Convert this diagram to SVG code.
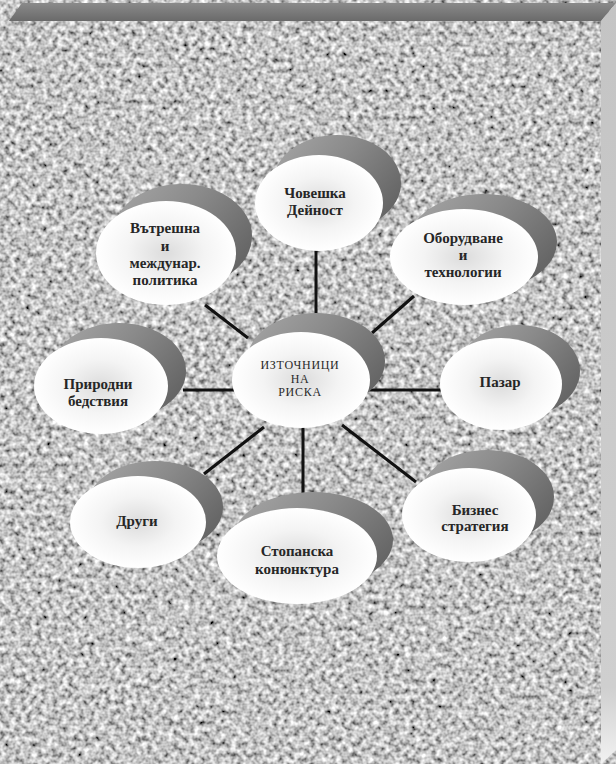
<svg xmlns="http://www.w3.org/2000/svg" width="616" height="764" viewBox="0 0 616 764">
<style>
.t{font-family:"Liberation Serif","Times New Roman",serif;font-weight:bold;font-size:15px;fill:#262626;text-anchor:middle}
.c{font-family:"Liberation Serif","Times New Roman",serif;font-size:12px;letter-spacing:0.7px;fill:#2a2a2a;text-anchor:middle}
.sh{fill:url(#shg)}
.face{fill:url(#faceg)}
.ln{stroke:#111;stroke-width:3;stroke-linecap:butt;fill:none}
</style>
<defs>
<filter id="granite" filterUnits="userSpaceOnUse" x="0" y="0" width="616" height="764">
<feTurbulence type="fractalNoise" baseFrequency="0.19" numOctaves="2" seed="7" result="n"/>
<feColorMatrix in="n" type="matrix" values="1.5 0 0 0 -0.2  1.5 0 0 0 -0.2  1.5 0 0 0 -0.2  0 0 0 0 1" result="g"/>
<feGaussianBlur in="g" stdDeviation="0.5"/>
</filter>
<linearGradient id="shg" x1="0" y1="0" x2="1" y2="0.6">
<stop offset="0" stop-color="#a8a8a8"/>
<stop offset="0.5" stop-color="#8a8a8a"/>
<stop offset="1" stop-color="#666666"/>
</linearGradient>
<radialGradient id="faceg" cx="0.5" cy="0.5" r="0.5">
<stop offset="0" stop-color="#dcdcdc"/>
<stop offset="0.55" stop-color="#f4f4f4"/>
<stop offset="1" stop-color="#ffffff"/>
</radialGradient>
<linearGradient id="topg" x1="0" y1="0" x2="0" y2="1">
<stop offset="0" stop-color="#8a8a8a"/>
<stop offset="1" stop-color="#6a6a6a"/>
</linearGradient>
<linearGradient id="rightg" x1="0" y1="0" x2="0" y2="1">
<stop offset="0" stop-color="#c4c4c4"/>
<stop offset="0.9" stop-color="#cfcfcf"/>
<stop offset="1" stop-color="#f2f2f2"/>
</linearGradient>
</defs>
<rect width="616" height="764" fill="#ffffff"/>
<rect x="9" y="21" width="592" height="743" fill="#999" filter="url(#granite)"/>
<polygon points="9,21 22,3 616,3 601,21" fill="url(#topg)"/>
<polygon points="601,21 616,3 616,750 601,764" fill="url(#rightg)"/>

<g id="connectors">
<line class="ln" x1="316" y1="250" x2="316" y2="314"/>
<line class="ln" x1="205" y1="305" x2="248" y2="338"/>
<line class="ln" x1="414" y1="296" x2="372" y2="333"/>
<line class="ln" x1="183" y1="390" x2="234" y2="390"/>
<line class="ln" x1="368" y1="390" x2="441" y2="390"/>
<line class="ln" x1="264" y1="427" x2="204" y2="474"/>
<line class="ln" x1="303" y1="427" x2="303" y2="494"/>
<line class="ln" x1="342" y1="425" x2="416" y2="482"/>
</g>

<g id="node-center">
<ellipse class="sh" cx="316" cy="361" rx="69" ry="48"/>
<ellipse class="face" cx="301" cy="380" rx="69" ry="48"/>
<text class="c" x="300" y="369">ИЗТОЧНИЦИ</text>
<text class="c" x="300" y="383">НА</text>
<text class="c" x="300" y="396">РИСКА</text>
</g>

<g id="node-chovesh">
<ellipse class="sh" cx="337" cy="183" rx="64" ry="48"/>
<ellipse class="face" cx="319" cy="203" rx="64" ry="48"/>
<text class="t" x="315" y="198">Човешка</text>
<text class="t" x="315" y="215">Дейност</text>
</g>

<g id="node-vatreshna">
<ellipse class="sh" cx="182" cy="236" rx="70" ry="52"/>
<ellipse class="face" cx="166" cy="253" rx="70" ry="52"/>
<text class="t" x="165" y="233">Вътрешна</text>
<text class="t" x="165" y="251">и</text>
<text class="t" x="165" y="268">междунар.</text>
<text class="t" x="165" y="285">политика</text>
</g>

<g id="node-oborudvane">
<ellipse class="sh" cx="483" cy="242" rx="74" ry="48"/>
<ellipse class="face" cx="464" cy="257" rx="74" ry="48"/>
<text class="t" x="463" y="243">Оборудване</text>
<text class="t" x="463" y="260">и</text>
<text class="t" x="463" y="277">технологии</text>
</g>

<g id="node-prirodni">
<ellipse class="sh" cx="119" cy="371" rx="67" ry="48"/>
<ellipse class="face" cx="101" cy="386" rx="67" ry="48"/>
<text class="t" x="98" y="389">Природни</text>
<text class="t" x="98" y="406">бедствия</text>
</g>

<g id="node-pazar">
<ellipse class="sh" cx="519" cy="371" rx="61" ry="46"/>
<ellipse class="face" cx="501" cy="384" rx="61" ry="46"/>
<text class="t" x="500" y="387">Пазар</text>
</g>

<g id="node-drugi">
<ellipse class="sh" cx="155" cy="507" rx="68" ry="46"/>
<ellipse class="face" cx="138" cy="522" rx="68" ry="46"/>
<text class="t" x="137" y="526">Други</text>
</g>

<g id="node-stopanska">
<ellipse class="sh" cx="313" cy="540" rx="80" ry="48"/>
<ellipse class="face" cx="297" cy="556" rx="80" ry="48"/>
<text class="t" x="297" y="556">Стопанска</text>
<text class="t" x="297" y="574">конюнктура</text>
</g>

<g id="node-biznes">
<ellipse class="sh" cx="487" cy="497" rx="67" ry="47"/>
<ellipse class="face" cx="469" cy="515" rx="67" ry="47"/>
<text class="t" x="475" y="515">Бизнес</text>
<text class="t" x="475" y="531">стратегия</text>
</g>
</svg>
